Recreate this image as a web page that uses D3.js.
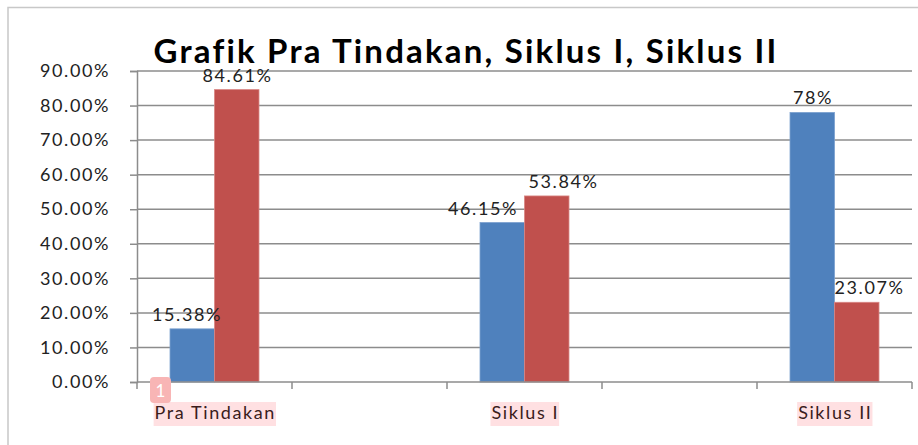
<!DOCTYPE html>
<html>
<head>
<meta charset="utf-8">
<script src="https://cdn.jsdelivr.net/npm/d3@7"></script>
<style>
	body { margin: 0; background: #fff; }
	text { font-family: Lato, "Open Sans", sans-serif; }
</style>
</head>
<body>
<div id="chart"></div>
<script>
// categories (the two blank slots are empty columns in the original sheet)
var categories = ["Pra Tindakan", "", "Siklus I", "", "Siklus II"];
var seriesBlue = [15.38, null, 46.15, null, 78];
var seriesRed = [84.61, null, 53.84, null, 23.07];
var blueLabels = ["15.38%", "", "46.15%", "", "78%"];
var redLabels = ["84.61%", "", "53.84%", "", "23.07%"];
var yTicks = [0, 10, 20, 30, 40, 50, 60, 70, 80, 90];
var title = "Grafik Pra Tindakan, Siklus I, Siklus II";

(function(){
	var width = 918,
		height = 445;

	var margin = {left: 137, right: 6, top: 71, bottom: 63};
	var fs = 18, ls = 1.6;

	var svg = d3.select("#chart")
		.append("svg")
		.attr("width", width)
		.attr("height", height)

	// outer frame (top + left edges only visible)
	svg.append("path")
		.attr("d", "M8," + height + "V7.5H" + width)
		.attr("fill", "none")
		.attr("stroke", "#c8c8c8")
		.attr("stroke-width", 1.5)

	var x = d3.scaleBand()
		.domain(d3.range(categories.length))
		.range([margin.left, width - margin.right])

	var y = d3.scaleLinear()
		.domain([0, 90])
		.range([height - margin.bottom, margin.top])

	var barW = x.bandwidth() * 0.287;

	// gridlines
	svg.append("g")
		.selectAll("line")
		.data(yTicks.slice(1))
		.enter().append("line")
		.attr("x1", margin.left)
		.attr("x2", width - margin.right)
		.attr("y1", function(d){ return y(d) })
		.attr("y2", function(d){ return y(d) })
		.attr("stroke", "#8c8c8c")
		.attr("stroke-width", 1.5)

	// y axis
	var yAxis = svg.append("g")
		.attr("transform", "translate(" + margin.left + ",0)")
		.call(d3.axisLeft(y).tickValues(yTicks).tickSize(7).tickPadding(20)
			.tickFormat(function(d){ return d.toFixed(2) + "%" }))
	yAxis.select(".domain").attr("stroke", "#8c8c8c").attr("stroke-width", 1.5)
	yAxis.selectAll(".tick line").attr("stroke", "#8c8c8c").attr("stroke-width", 1.5)
	yAxis.selectAll("text")
		.attr("font-size", fs)
		.attr("fill", "#222")
		.style("font-family", "Lato, sans-serif")
		.style("letter-spacing", ls + "px")

	function cx(i){ return x(i) + x.bandwidth()/2 }

	// bars
	svg.append("g").selectAll("rect")
		.data(d3.range(seriesBlue.length).filter(function(i){ return seriesBlue[i] != null }))
		.enter().append("rect")
		.attr("x", function(i){ return cx(i) - barW })
		.attr("y", function(i){ return y(seriesBlue[i]) })
		.attr("width", barW)
		.attr("height", function(i){ return y(0) - y(seriesBlue[i]) })
		.attr("fill", "#4f81bd")
		.attr("stroke", "#7aa0cf")
		.attr("stroke-width", 0.8)

	svg.append("g").selectAll("rect")
		.data(d3.range(seriesRed.length).filter(function(i){ return seriesRed[i] != null }))
		.enter().append("rect")
		.attr("x", function(i){ return cx(i) })
		.attr("y", function(i){ return y(seriesRed[i]) })
		.attr("width", barW)
		.attr("height", function(i){ return y(0) - y(seriesRed[i]) })
		.attr("fill", "#c0504d")
		.attr("stroke", "#d98583")
		.attr("stroke-width", 0.8)

	// x axis (baseline + ticks at category edges)
	var xAxis = svg.append("g")
	xAxis.append("line")
		.attr("x1", margin.left).attr("x2", width - margin.right)
		.attr("y1", y(0)).attr("y2", y(0))
		.attr("stroke", "#8c8c8c").attr("stroke-width", 1.5)
	xAxis.selectAll(".xt")
		.data(d3.range(categories.length + 1))
		.enter().append("line")
		.attr("class", "xt")
		.attr("x1", function(i){ return i < categories.length ? x(i) : width - margin.right })
		.attr("x2", function(i){ return i < categories.length ? x(i) : width - margin.right })
		.attr("y1", y(0)).attr("y2", y(0) + 7)
		.attr("stroke", "#8c8c8c").attr("stroke-width", 1.5)

	// category labels with pink highlight
	var catG = svg.append("g")
		.selectAll("g")
		.data(categories.map(function(c, i){ return {c: c, i: i} }).filter(function(d){ return d.c }))
		.enter().append("g")
	var catText = catG.append("text")
		.attr("x", function(d){ return cx(d.i) + ls/2 })
		.attr("y", 419)
		.attr("text-anchor", "middle")
		.attr("font-size", fs)
		.attr("fill", "#3a1c1c")
		.style("letter-spacing", ls + "px")
		.text(function(d){ return d.c })
	catText.each(function(){
		var b = this.getBBox();
		d3.select(this.parentNode).insert("rect", "text")
			.attr("x", b.x - 1).attr("y", 402)
			.attr("width", b.width + 1).attr("height", 24)
			.attr("fill", "#ffe0e2")
	})

	// little annotation marker "1"
	svg.append("rect")
		.attr("x", 150).attr("y", 377).attr("width", 21).attr("height", 26)
		.attr("rx", 4).attr("fill", "#f8b5b5")
	svg.append("text")
		.attr("x", 160.5).attr("y", 397)
		.attr("text-anchor", "middle")
		.attr("font-size", 17)
		.attr("fill", "#fff")
		.text("1")

	// data labels (small nudges like Excel did to avoid overlap)
	var blueNudge = [-6, 0, -20, 0, 0];
	var redNudge = [0, 0, 16, 0, 12];
	function addLabels(vals, labs, nudge, side){
		svg.append("g").selectAll("text")
			.data(d3.range(vals.length).filter(function(i){ return vals[i] != null }))
			.enter().append("text")
			.attr("x", function(i){ return cx(i) + side * barW/2 + nudge[i] + ls/2 })
			.attr("y", function(i){ return y(vals[i]) - 8 })
			.attr("text-anchor", "middle")
			.attr("font-size", fs)
			.attr("fill", "#222")
			.style("letter-spacing", ls + "px")
			.text(function(i){ return labs[i] })
	}
	addLabels(seriesBlue, blueLabels, blueNudge, -1)
	addLabels(seriesRed, redLabels, redNudge, 1)

	// title
	svg.append("text")
		.attr("x", 466)
		.attr("y", 63)
		.attr("text-anchor", "middle")
		.attr("font-size", 33)
		.attr("font-weight", "bold")
		.attr("fill", "#000")
		.style("letter-spacing", "2.2px")
		.text(title)
})();
</script>
</body>
</html>
